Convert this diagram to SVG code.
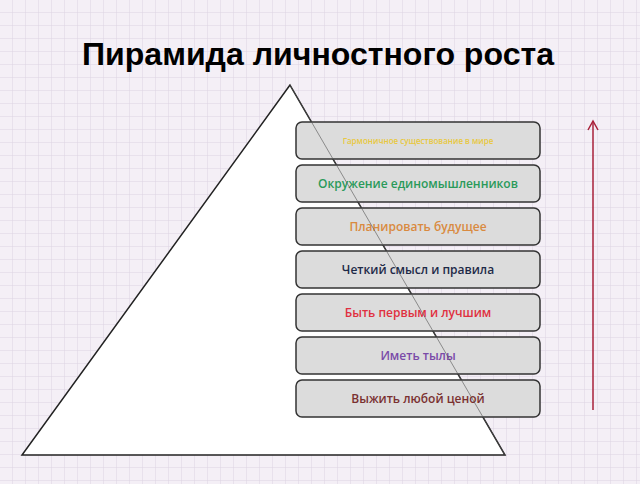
<svg xmlns="http://www.w3.org/2000/svg" width="640" height="484" viewBox="0 0 640 484">
<defs>
<pattern id="grid" width="13" height="13" patternUnits="userSpaceOnUse"><rect width="13" height="13" fill="#f4eff6"/><path d="M13 0V13H0" fill="none" stroke="#ddd3e3" stroke-width="1"/></pattern>
<style>
.box{fill:#dcdcdc;stroke:#333;stroke-width:1.5}
.t{font-family:"Open Sans","DejaVu Sans",sans-serif;font-size:12px;text-anchor:middle;font-weight:600}
.small{font-size:8px}
</style>
</defs>
<rect width="640" height="484" fill="url(#grid)"/>
<text x="318" y="65" font-family="'Liberation Sans Narrow','Liberation Sans',Arial,sans-serif" font-weight="bold" font-size="32" text-anchor="middle" fill="#000" textLength="472" lengthAdjust="spacingAndGlyphs">Пирамида личностного роста</text>
<g id="pyramid"><polygon points="290,85 22,455 505,455" fill="#fff" stroke="#222" stroke-width="1.5"/></g>
<g id="l7"><rect class="box" x="296" y="122" width="244" height="37" rx="6"/><text class="t small" x="418" y="144" fill="#e8c840">Гармоничное существование в мире</text></g>
<g id="l6"><rect class="box" x="296" y="165" width="244" height="37" rx="6"/><text class="t" x="418" y="188" fill="#2a9a5a">Окружение единомышленников</text></g>
<g id="l5"><rect class="box" x="296" y="208" width="244" height="37" rx="6"/><text class="t" x="418" y="231" fill="#d98a40">Планировать будущее</text></g>
<g id="l4"><rect class="box" x="296" y="251" width="244" height="37" rx="6"/><text class="t" x="418" y="274" fill="#1e2a48">Четкий смысл и правила</text></g>
<g id="l3"><rect class="box" x="296" y="294" width="244" height="37" rx="6"/><text class="t" x="418" y="317" fill="#e03040">Быть первым и лучшим</text></g>
<g id="l2"><rect class="box" x="296" y="337" width="244" height="37" rx="6"/><text class="t" x="418" y="360" fill="#7a4aa8">Иметь тылы</text></g>
<g id="l1"><rect class="box" x="296" y="380" width="244" height="37" rx="6"/><text class="t" x="418" y="403" fill="#7a3030">Выжить любой ценой</text></g>
<line x1="290" y1="85" x2="505" y2="455" stroke="#555" stroke-width="1" opacity="0.6"/>
<g id="connectors"><line x1="593" y1="410" x2="593" y2="121" stroke="#a8203a" stroke-width="1.5"/><path d="M588 130L593 121L598 130" fill="none" stroke="#a8203a" stroke-width="1.5"/></g>
</svg>
